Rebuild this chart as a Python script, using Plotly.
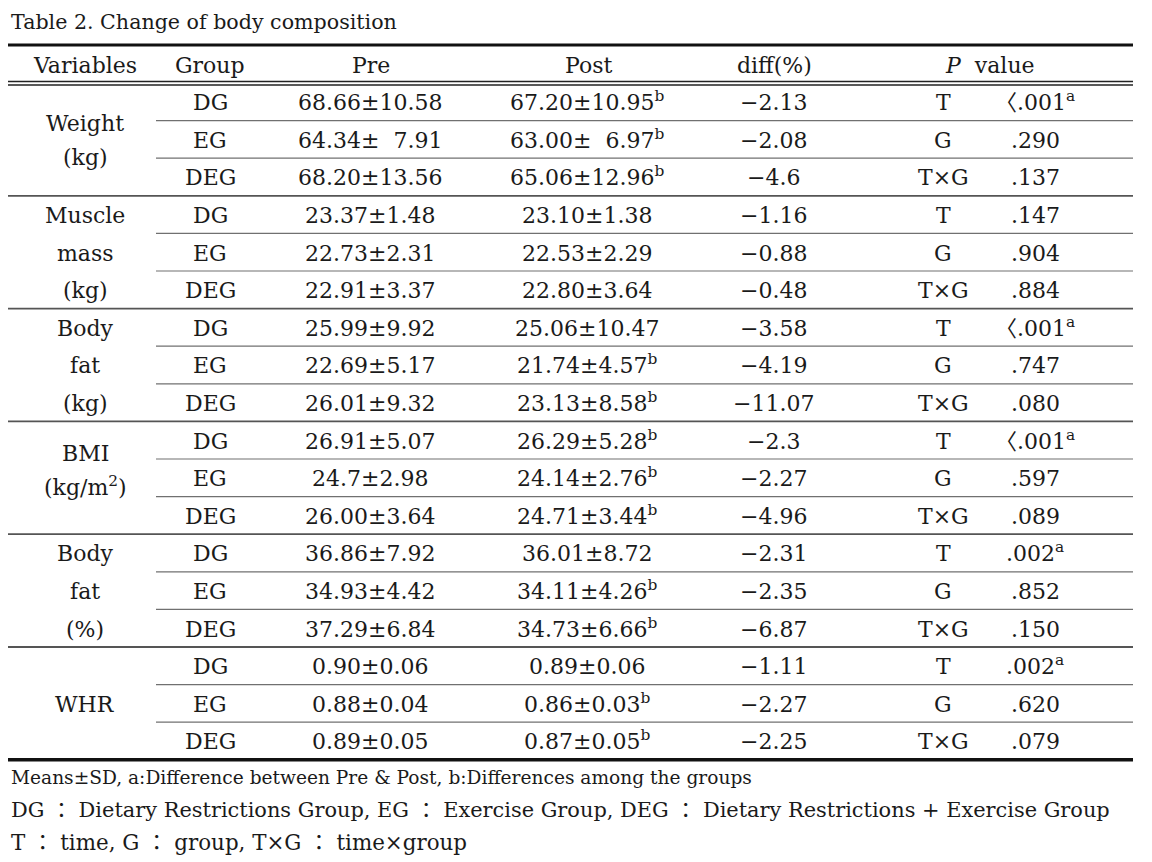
import plotly.graph_objects as go

# ---------------- data ----------------
title_text = "Table 2. Change of body composition"
headers = ["Variables", "Group", "Pre", "Post", "diff(%)", "<i>P</i>  value"]
variables = [
    ["Weight", "(kg)"],
    ["Muscle", "mass", "(kg)"],
    ["Body", "fat", "(kg)"],
    ["BMI", "(kg/m<sup>2</sup>)"],
    ["Body", "fat", "(%)"],
    ["WHR"],
]
groups = ["DG", "EG", "DEG"]
pre = ["68.66±10.58", "64.34±  7.91", "68.20±13.56",
       "23.37±1.48", "22.73±2.31", "22.91±3.37",
       "25.99±9.92", "22.69±5.17", "26.01±9.32",
       "26.91±5.07", "24.7±2.98", "26.00±3.64",
       "36.86±7.92", "34.93±4.42", "37.29±6.84",
       "0.90±0.06", "0.88±0.04", "0.89±0.05"]
post = ["67.20±10.95<sup>b</sup>", "63.00±  6.97<sup>b</sup>", "65.06±12.96<sup>b</sup>",
        "23.10±1.38", "22.53±2.29", "22.80±3.64",
        "25.06±10.47", "21.74±4.57<sup>b</sup>", "23.13±8.58<sup>b</sup>",
        "26.29±5.28<sup>b</sup>", "24.14±2.76<sup>b</sup>", "24.71±3.44<sup>b</sup>",
        "36.01±8.72", "34.11±4.26<sup>b</sup>", "34.73±6.66<sup>b</sup>",
        "0.89±0.06", "0.86±0.03<sup>b</sup>", "0.87±0.05<sup>b</sup>"]
diff = ["−2.13", "−2.08", "−4.6",
        "−1.16", "−0.88", "−0.48",
        "−3.58", "−4.19", "−11.07",
        "−2.3", "−2.27", "−4.96",
        "−2.31", "−2.35", "−6.87",
        "−1.11", "−2.27", "−2.25"]
p_terms = ["T", "G", "T×G"]
p_values = ["〈.001<sup>a</sup>", ".290", ".137",
            ".147", ".904", ".884",
            "〈.001<sup>a</sup>", ".747", ".080",
            "〈.001<sup>a</sup>", ".597", ".089",
            ".002<sup>a</sup>", ".852", ".150",
            ".002<sup>a</sup>", ".620", ".079"]
footnotes = [
    "Means±SD, a:Difference between Pre & Post, b:Differences among the groups",
    "DG ： Dietary Restrictions Group, EG ： Exercise Group, DEG ： Dietary Restrictions + Exercise Group",
    "T ： time, G ： group, T×G ： time×group",
]

# ---------------- layout constants ----------------
W, H = 1152, 862
OFF = 8  # page body margin compensation
FONT = "DejaVu Serif, Noto Sans CJK KR"
FS = 22
TXT = "#1a1a1a"
X_LEFT, X_RIGHT, X_INNER = 8, 1133, 156
col_x = {"var": 85, "grp": 210, "pre": 370, "post": 587, "diff": 773, "pterm": 943, "pval": 1035}
header_x = [85, 210, 371, 588, 774, 990]
HEADER_Y = 65
TOP_LINE_Y = 45
ROW0 = 83.0
ROW_H = 37.6
HALF_BOX = 15.3   # half height of a single-line text box (baseline anchoring)
foot_sizes = [18.6, 20.9, 21.4]

n_rows = len(pre)
row_y = [ROW0 + ROW_H * (i + 0.5) for i in range(n_rows)]

fig = go.Figure()
annotations = []

def add_text(x, y, text, size=FS, xanchor="center"):
    # anchor on the bottom of the box so superscripts do not move the baseline
    annotations.append(dict(
        x=x, y=y + HALF_BOX * size / FS, xref="x", yref="y", text=text, showarrow=False,
        xanchor=xanchor, yanchor="bottom",
        font=dict(family=FONT, size=size, color=TXT)))

# header
for hx, ht in zip(header_x, headers):
    add_text(hx, HEADER_Y, ht)

# body columns
for i in range(n_rows):
    y = row_y[i]
    add_text(col_x["grp"], y, groups[i % 3])
    add_text(col_x["pre"], y, pre[i])
    add_text(col_x["post"], y, post[i])
    add_text(col_x["diff"], y, diff[i])
    add_text(col_x["pterm"], y, p_terms[i % 3])
    add_text(col_x["pval"], y, p_values[i])

# variable labels, centred on each block of three rows
for g, lines in enumerate(variables):
    center = row_y[3 * g + 1]
    n = len(lines)
    step = ROW_H if n == 3 else 34
    lift = 8 if any("<sup>" in ln for ln in lines) else 0
    for k, ln in enumerate(lines):
        add_text(col_x["var"], center + (k - (n - 1) / 2) * step - lift, ln)

# title and footnotes
add_text(9, 22, title_text, size=20.6, xanchor="left")
for k, fn in enumerate(footnotes):
    add_text(9, 777 + 32.5 * k, fn, size=foot_sizes[k], xanchor="left")

# invisible trace so the axes exist
fig.add_trace(go.Scatter(x=[OFF, W + OFF], y=[OFF, H + OFF], mode="markers",
                         marker=dict(opacity=0), hoverinfo="skip", showlegend=False))

# rules
shapes = []
def hline(y, x0, x1, w, c):
    shapes.append(dict(type="line", x0=x0, x1=x1, y0=y, y1=y, xref="x", yref="y",
                       line=dict(width=w, color=c)))

hline(TOP_LINE_Y, X_LEFT, X_RIGHT, 3, "#111111")
hline(81.5, X_LEFT, X_RIGHT, 1.3, "#222222")
hline(85, X_LEFT, X_RIGHT, 1.3, "#222222")
for i in range(1, n_rows):
    y = ROW0 + ROW_H * i
    if i % 3 == 0:
        hline(y, X_LEFT, X_RIGHT, 1.8, "#555555")
    else:
        hline(y, X_INNER, X_RIGHT, 1.2, "#707070")
hline(ROW0 + ROW_H * n_rows, X_LEFT, X_RIGHT, 3.5, "#111111")

fig.update_layout(
    width=W, height=H, margin=dict(l=0, r=0, t=0, b=0),
    paper_bgcolor="white", plot_bgcolor="white",
    xaxis=dict(range=[OFF, W + OFF], visible=False, fixedrange=True),
    yaxis=dict(range=[H + OFF, OFF], visible=False, fixedrange=True),
    shapes=shapes, annotations=annotations, hovermode=False,
)

fig.write_html("out.html")
